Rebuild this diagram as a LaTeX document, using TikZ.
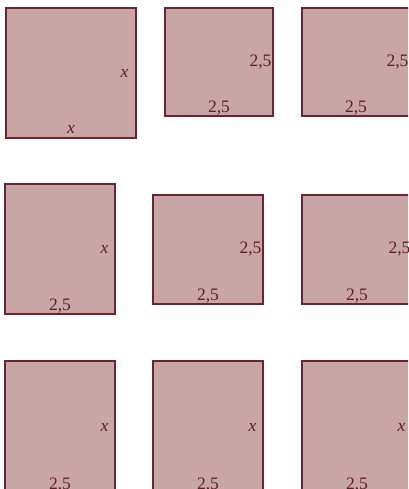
\documentclass[tikz,border=0pt]{standalone}
\usepackage{fontspec}
\setmainfont{Liberation Serif}
\definecolor{boxfill}{HTML}{C8A6A5}
\definecolor{boxline}{HTML}{6E2330}
\definecolor{lbltext}{HTML}{5C1E28}

\begin{document}
\begin{tikzpicture}[x=1pt, y=-1pt,
    box/.style={draw=boxline, fill=boxfill, line width=1.3pt, rectangle, inner sep=0pt},
    lbl/.style={text=lbltext, inner sep=0pt, font=\fontsize{17.5}{20}\selectfont}]
        \useasboundingbox (0,0) rectangle (408,489);
        \clip (0,0) rectangle (408,489);

        % First row
        \node[box, minimum width=130pt, minimum height=130pt] (a) at (71,73) {};
        \node[box, minimum width=108pt, minimum height=108pt] (b) at (219,62) {};
        \node[box, minimum width=108pt, minimum height=108pt] (c) at (356,62) {};

        \node[lbl, anchor=east] at ([xshift=-8pt]a.east) {\textit{x}};
        \node[lbl, anchor=base] at ([yshift=5pt]a.south) {\textit{x}};
        \node[lbl, anchor=east] at ([xshift=-2pt]b.east) {2,5};
        \node[lbl, anchor=base] at ([yshift=4pt]b.south) {2,5};
        \node[lbl, anchor=east] at ([xshift=-2pt]c.east) {2,5};
        \node[lbl, anchor=base] at ([yshift=4pt]c.south) {2,5};

        % Second row
        \node[box, minimum width=110pt, minimum height=130pt] (d) at (60,249) {};
        \node[box, minimum width=110pt, minimum height=109pt] (e) at (208,249.5) {};
        \node[box, minimum width=110pt, minimum height=109pt] (f) at (357,249.5) {};

        \node[lbl, anchor=east] at ([xshift=-7pt]d.east) {\textit{x}};
        \node[lbl, anchor=base] at ([yshift=4pt]d.south) {2,5};
        \node[lbl, anchor=east] at ([xshift=-2pt]e.east) {2,5};
        \node[lbl, anchor=base] at ([yshift=4pt]e.south) {2,5};
        \node[lbl, anchor=east] at ([xshift=-2pt]f.east) {2,5};
        \node[lbl, anchor=base] at ([yshift=4pt]f.south) {2,5};

        % Third row
        \node[box, minimum width=110pt, minimum height=132pt] (g) at (60,427) {};
        \node[box, minimum width=110pt, minimum height=132pt] (h) at (208,427) {};
        \node[box, minimum width=110pt, minimum height=132pt] (i) at (357,427) {};

        \node[lbl, anchor=east] at ([xshift=-7pt]g.east) {\textit{x}};
        \node[lbl, anchor=base] at ([yshift=4pt]g.south) {2,5};
        \node[lbl, anchor=east] at ([xshift=-7pt]h.east) {\textit{x}};
        \node[lbl, anchor=base] at ([yshift=4pt]h.south) {2,5};
        \node[lbl, anchor=east] at ([xshift=-7pt]i.east) {\textit{x}};
        \node[lbl, anchor=base] at ([yshift=4pt]i.south) {2,5};
    \end{tikzpicture}
\end{document}
